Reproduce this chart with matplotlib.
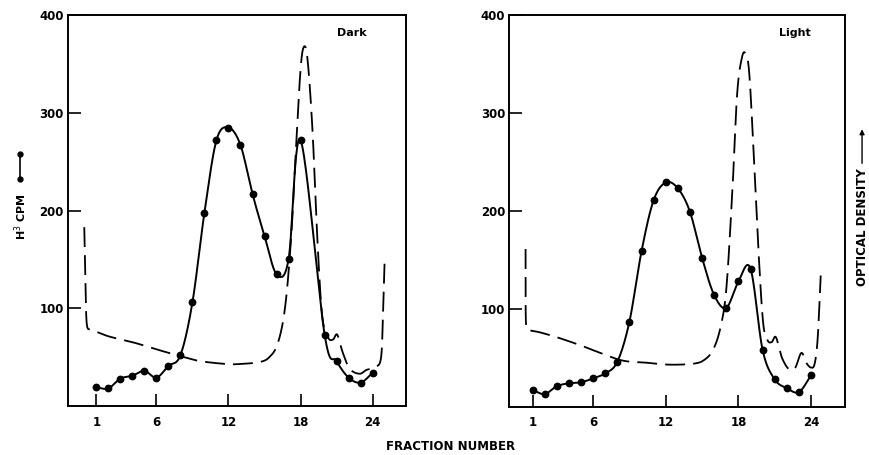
import numpy as np
import matplotlib
matplotlib.use("Agg")
import matplotlib.pyplot as plt

# ---------------- data ----------------
dark_frac = [1, 2, 3, 4, 5, 6, 7, 8, 9, 10, 11, 12, 13, 14, 15, 16, 17, 18, 20, 21, 22, 23, 24]
dark_cpm = [19, 18, 28, 31, 36, 29, 41, 52, 106, 198, 272, 285, 267, 217, 174, 135, 150, 272, 73, 46, 29, 24, 34]

light_frac = [1, 2, 3, 4, 5, 6, 7, 8, 9, 10, 11, 12, 13, 14, 15, 16, 17, 18, 19, 20, 21, 22, 23, 24]
light_cpm = [17, 13, 21, 24, 25, 29, 34, 46, 87, 159, 211, 229, 223, 199, 152, 114, 101, 128, 141, 58, 28, 19, 15, 32]

# optical density traces (plotted on the same scale)
dark_od_x = [0.0, 0.1, 0.2, 0.5, 1.0, 2.1, 4.1, 6.0, 8.0, 9.6, 11.8, 13.0, 14.6, 15.4, 16.1, 16.7, 17.2,
             17.6, 18.0, 18.3, 18.6, 19.0, 19.4, 19.8, 20.3, 20.7, 21.05, 21.5, 22.1, 22.9, 23.5, 24.3, 24.7, 24.85, 25.0]
dark_od_y = [183, 130, 85, 78, 76, 71, 65, 58, 51, 46, 43, 43, 45, 50, 64, 100, 170,
             260, 345, 368, 352, 280, 170, 92, 70, 68, 73, 55, 38, 33, 37, 40, 50, 90, 151]

light_od_x = [0.42, 0.42, 0.45, 0.6, 1.6, 3.0, 4.9, 6.8, 8.5, 10.4, 12.3, 14.3, 15.2, 15.9, 16.5, 17.0,
              17.5, 17.9, 18.3, 18.6, 18.9, 19.3, 19.7, 20.05, 20.4, 20.75, 21.1, 21.6, 22.2, 22.7, 23.2,
              23.6, 24.0, 24.3, 24.55, 24.8]
light_od_y = [161, 120, 86, 79, 76, 71, 63, 54, 47, 45, 43, 44, 48, 58, 80, 120,
              220, 320, 357, 360, 340, 250, 150, 85, 68, 66, 71, 50, 38, 40, 55,
              45, 40, 44, 70, 134]

frac_ticks = [1, 6, 12, 18, 24]
cpm_ticks = [100, 200, 300, 400]


def catmull_rom(xs, ys, n=24):
    p = np.column_stack([xs, ys]).astype(float)
    p = np.vstack([2 * p[0] - p[1], p, 2 * p[-1] - p[-2]])
    out = []
    t = np.linspace(0, 1, n, endpoint=False)[:, None]
    for i in range(1, len(p) - 2):
        p0, p1, p2, p3 = p[i - 1], p[i], p[i + 1], p[i + 2]
        seg = 0.5 * ((2 * p1) + (-p0 + p2) * t + (2 * p0 - 5 * p1 + 4 * p2 - p3) * t ** 2
                     + (-p0 + 3 * p1 - 3 * p2 + p3) * t ** 3)
        out.append(seg)
    out.append(p[-2][None, :])
    out = np.vstack(out)
    return out[:, 0], out[:, 1]


plt.rcParams['font.family'] = ['DejaVu Sans']
fig = plt.figure(figsize=(8.69, 4.55), dpi=100)

panels = [
    ([0.0783, 0.1077, 0.3886, 0.859], (-1.35, 26.75), dark_frac, dark_cpm, dark_od_x, dark_od_y, "Dark", 0.84),
    ([0.586, 0.106, 0.3863, 0.861], (-0.93, 26.8), light_frac, light_cpm, light_od_x, light_od_y, "Light", 0.85),
]

for rect, xl, fx, fy, ox, oy, title, tx in panels:
    ax = fig.add_axes(rect)
    # optical density (dashed)
    sx, sy = catmull_rom(ox, oy)
    ln, = ax.plot(sx, sy, color='black', lw=1.3)
    ln.set_dashes((11, 4.5))
    # H3 CPM (solid with dots)
    cx, cy = catmull_rom(fx, fy)
    ax.plot(cx, cy, color='black', lw=1.4)
    ax.plot(fx, fy, 'o', color='black', ms=4.6)
    ax.set_xlim(*xl)
    ax.set_ylim(0, 400)
    ax.set_xticks(frac_ticks)
    ax.set_xticklabels([str(v) for v in frac_ticks])
    ax.set_yticks(cpm_ticks)
    ax.set_yticklabels([str(v) for v in cpm_ticks])
    ax.tick_params(direction='in', length=9, width=1.2, labelsize=8.5)
    ax.tick_params(axis='x', pad=7)
    ax.tick_params(axis='y', pad=3)
    for lab in ax.get_xticklabels() + ax.get_yticklabels():
        lab.set_fontweight('bold')
    for s in ax.spines.values():
        s.set_linewidth(1.4)
    ax.text(tx, 0.955, title, transform=ax.transAxes, fontsize=8, fontweight='bold',
            ha='center', va='center')

fig.text(0.518, 0.004, "FRACTION NUMBER", ha='center', va='bottom', fontsize=8.5, fontweight='bold')
fig.text(0.024, 0.525, "H$^3$ CPM", rotation=90, ha='center', va='center', fontsize=8, fontweight='bold')
# line-dot symbol above the y label
fig.add_artist(plt.Line2D([0.0235, 0.0235], [0.607, 0.662], transform=fig.transFigure,
                          color='black', lw=1.2, marker='o', ms=3.5))
fig.text(0.992, 0.50, "OPTICAL DENSITY", rotation=90, ha='center', va='center', fontsize=8.5, fontweight='bold')
fig.add_artist(matplotlib.patches.FancyArrowPatch((0.992, 0.635), (0.992, 0.722),
                                                  transform=fig.transFigure, arrowstyle='-|>',
                                                  mutation_scale=7, color='black', lw=1.0))

fig.savefig("out.png", dpi=100)
